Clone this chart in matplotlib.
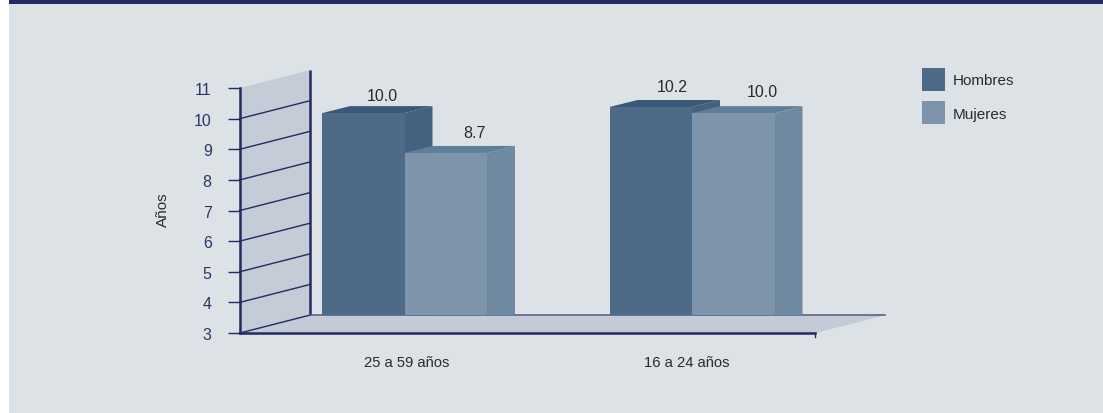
import matplotlib
matplotlib.use('Agg')
import matplotlib.pyplot as plt
from matplotlib.patches import Polygon, Patch, Rectangle

plt.rcParams['font.family'] = ['Liberation Sans', 'DejaVu Sans']

# data
categories = ['25 a 59 años', '16 a 24 años']
hombres = [10.0, 10.2]
mujeres = [8.7, 10.0]
series_names = ['Hombres', 'Mujeres']
year_ticks = [3, 4, 5, 6, 7, 8, 9, 10, 11]

W, H = 1103, 414
PANEL = '#dde2e6'
NAVY = '#242a62'
WALL = '#c3ccd7'
FLOOR = '#c4cbd8'
TEXT = '#2a2a2a'
DARK = ('#4d6a87', '#44617f', '#3a5878')   # front, side, top
LIGHT = ('#7e94aa', '#6f89a1', '#5f7f99')

fig = plt.figure(figsize=(W / 100, H / 100), dpi=100, facecolor='white')

# panel and top strip
fig.add_artist(Rectangle((9 / W, 0), 1 - 9 / W, 1 - 5 / H, transform=fig.transFigure, color=PANEL, lw=0, zorder=-2))
fig.add_artist(Rectangle((9 / W, 1 - 5 / H), 1 - 9 / W, 5 / H, transform=fig.transFigure, color=NAVY, lw=0, zorder=-2))

# axes: x unit is one pixel from the y axis
x0, x1 = 239.5, 815.0
y_top, y_bot = 89.1, 334.1
ax = fig.add_axes([x0 / W, 1 - y_bot / H, (x1 - x0) / W, (y_bot - y_top) / H])
ax.patch.set_alpha(0)
ax.set_xlim(0, x1 - x0)
ax.set_ylim(3, 11)
per_px = 8 / (y_bot - y_top)

wall_dx, wall_dy = 70.5, 18 * per_px
bar_dx, bar_dy = 28, 7 * per_px
base = 3 + wall_dy
lift = 5.6 * per_px   # bars stand a little behind the front edge
bar_w = 82.5
group_x = [165.0, 452.5]

# wall and floor
ax.add_patch(Polygon([(0, 3), (wall_dx, base), (wall_dx, 11 + wall_dy), (0, 11)],
                     color=WALL, lw=0, clip_on=False, zorder=1))
ax.add_patch(Polygon([(0, 3), (wall_dx, base), (x1 - x0 + wall_dx, base), (x1 - x0, 3)],
                     color=FLOOR, lw=0, clip_on=False, zorder=1))
for t in year_ticks[:-1]:
    ax.plot([0, wall_dx], [t, t + wall_dy], color=NAVY, lw=1.0, clip_on=False, zorder=2)
ax.plot([wall_dx, wall_dx], [base, 11 + wall_dy], color=NAVY, lw=1.8, clip_on=False, zorder=2,
        solid_capstyle='butt')
ax.plot([wall_dx, x1 - x0 + wall_dx], [base, base], color='#54587f', lw=1.1, clip_on=False, zorder=2)

# bars
label_dx = [[19.5, 28.5], [22, 29.5]]
label_px = [[17.5, 20], [21, 22]]
for i, gx in enumerate(group_x):
    for j, (vals, cols) in enumerate([(hombres, DARK), (mujeres, LIGHT)]):
        v = vals[i]
        left = gx - bar_w + j * bar_w
        right = left + bar_w
        top = v + lift
        ax.add_patch(Polygon([(right, base), (right, top), (right + bar_dx, top + bar_dy), (right + bar_dx, base)],
                             color=cols[1], lw=0, clip_on=False, zorder=3 + j))
        ax.add_patch(Polygon([(left, top), (left + bar_dx, top + bar_dy), (right + bar_dx, top + bar_dy), (right, top)],
                             color=cols[2], lw=0, clip_on=False, zorder=3 + j))
        ax.bar(left, top - base, bottom=base, width=bar_w, align='edge', color=cols[0], lw=0,
               clip_on=False, zorder=3 + j)
        ax.text(left + bar_w / 2 + label_dx[i][j], top + label_px[i][j] * per_px, f'{v:.1f}',
                ha='center', va='center', fontsize=11.5, color=TEXT, zorder=6)

# axis lines and labels
for side in ['top', 'right']:
    ax.spines[side].set_visible(False)
ax.spines['left'].set_color(NAVY)
ax.spines['left'].set_linewidth(1.8)
ax.spines['bottom'].set_color(NAVY)
ax.spines['bottom'].set_linewidth(1.8)
ax.spines['left'].set_zorder(7)
ax.spines['bottom'].set_zorder(7)
ax.set_yticks(year_ticks)
ax.tick_params(axis='y', length=9, width=1.0, color=NAVY, labelcolor='#2e3468', labelsize=11.5, pad=11)
ax.set_xticks([167, 447.5])
ax.set_xticklabels(categories, fontsize=10.6, color=TEXT)
ax.tick_params(axis='x', length=0, pad=16)
ax.plot([x1 - x0, x1 - x0], [3, 3 - 4 * per_px], color=NAVY, lw=1.0, clip_on=False, zorder=7)
fig.text(163 / W, 1 - 210 / H, 'Años', rotation=90, ha='center', va='center', fontsize=11, color=TEXT)

# legend
handles = [Patch(color=DARK[0], lw=0), Patch(color=LIGHT[0], lw=0)]
fs = 11
fig.legend(handles, series_names, loc='upper left', bbox_to_anchor=(922 / W, 1 - 69 / H),
           frameon=False, borderpad=0, borderaxespad=0, fontsize=fs,
           handlelength=16.6 / fs, handleheight=1.94, handletextpad=5.8 / fs,
           labelspacing=7.4 / fs, labelcolor=TEXT)

fig.savefig('out.png', dpi=100, facecolor=fig.get_facecolor())
